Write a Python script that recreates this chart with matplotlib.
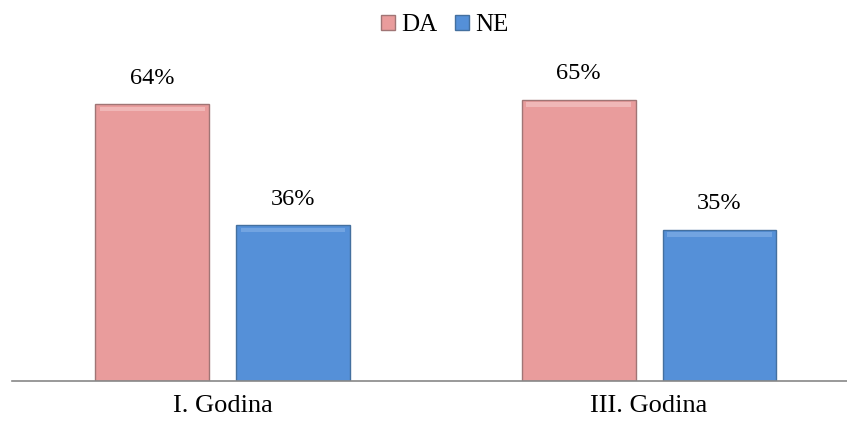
import matplotlib.pyplot as plt
import numpy as np

godine = ["I. Godina", "III. Godina"]
da = [64, 65]
ne = [36, 35]

plt.rcParams["font.family"] = ["Liberation Serif", "DejaVu Serif"]

fig = plt.figure(figsize=(8.47, 4.21), dpi=100)
ax = fig.add_axes([12 / 847, 40 / 421, 1 - 12 / 847, 346 / 421])

x = np.arange(len(godine))
sirina = 0.267
pomak = 0.165

stupci_da = ax.bar(x - pomak, da, sirina, color="#E99C9C", edgecolor="#A07575",
                   linewidth=1.0, label="DA", zorder=2)
stupci_ne = ax.bar(x + pomak, ne, sirina, color="#5590D8", edgecolor="#44709F",
                   linewidth=1.0, label="NE", zorder=2)

# svjetliji rub na vrhu stupaca (efekt reljefa)
for stupci, svijetla in ((stupci_da, "#F2BEBE"), (stupci_ne, "#7AAAE4")):
    for s in stupci:
        ax.bar(s.get_x() + s.get_width() / 2, 1.0, s.get_width() * 0.92,
               bottom=s.get_height() - 1.6, color=svijetla, linewidth=0,
               alpha=0.8, zorder=3)

for stupci, vrijednosti in ((stupci_da, da), (stupci_ne, ne)):
    for s, v in zip(stupci, vrijednosti):
        ax.text(s.get_x() + s.get_width() / 2, v + 3.6, f"{v}%",
                ha="center", va="bottom", fontsize=17.5)

ax.set_xlim(-0.4935, 1.464)
ax.set_ylim(0, 80)
ax.set_xticks(x)
ax.set_xticklabels(godine, fontsize=19)
ax.tick_params(axis="x", length=0, pad=10)
ax.set_yticks([])
for strana in ("top", "right", "left"):
    ax.spines[strana].set_visible(False)
ax.spines["bottom"].set_color("#888888")
ax.spines["bottom"].set_linewidth(1.2)

fig.legend(handles=[stupci_da, stupci_ne], loc="upper center",
           bbox_to_anchor=(0.525, 1.02), ncol=2, frameon=False, fontsize=18,
           handlelength=0.55, handleheight=0.55, handletextpad=0.25,
           columnspacing=0.7)

fig.savefig("out.png", dpi=100)
